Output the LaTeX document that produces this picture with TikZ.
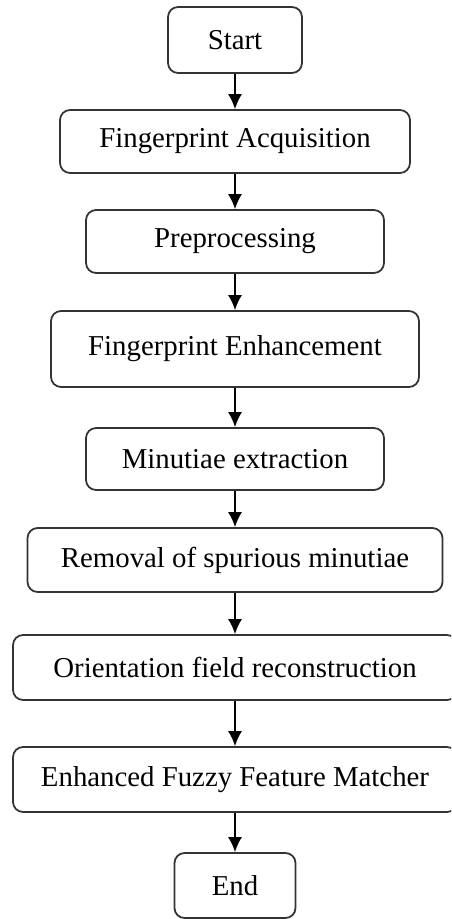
\documentclass[tikz,border=0pt]{standalone}
\usepackage{fontspec}
\setmainfont{Liberation Serif}
\usetikzlibrary{arrows.meta}

\begin{document}
\begin{tikzpicture}[x=0.02cm,y=-0.02cm,
        stage/.style={draw=black!80, line width=1pt, rounded corners=0.2cm, fill=white,
          inner sep=0pt, font=\fontsize{16.4}{19}\selectfont},
        flow/.style={draw=black, line width=0.9pt, -{Latex[length=3mm,width=2.8mm]}}]
        \clip (0,0) rectangle (451,919);
        \useasboundingbox (0,0) rectangle (451,919);
        \node[stage, minimum width=2.68cm, minimum height=1.32cm] (S) at (235,40) {Start};
        \node[stage, minimum width=7.0cm, minimum height=1.26cm] (FA) at (235,141.5) {Fingerprint Acquisition};
        \node[stage, minimum width=5.96cm, minimum height=1.26cm] (PP) at (235,241.5) {Preprocessing};
        \node[stage, minimum width=7.36cm, minimum height=1.52cm] (FE) at (235,349) {Fingerprint Enhancement};
        \node[stage, minimum width=5.96cm, minimum height=1.24cm] (ME) at (235,459) {Minutiae extraction};
        \node[stage, minimum width=8.3cm, minimum height=1.28cm] (RS) at (235,560) {Removal of spurious minutiae};
        \node[stage, minimum width=8.88cm, minimum height=1.3cm] (OF) at (235,667.5) {Orientation field reconstruction};
        \node[stage, minimum width=8.88cm, minimum height=1.3cm] (EF) at (235,779.5) {Enhanced Fuzzy Feature Matcher};
        \node[stage, minimum width=2.42cm, minimum height=1.3cm] (E) at (235,885.5) {End};
        \draw[flow] (S) -- (FA);
        \draw[flow] (FA) -- (PP);
        \draw[flow] (PP) -- (FE);
        \draw[flow] (FE) -- (ME);
        \draw[flow] (ME) -- (RS);
        \draw[flow] (RS) -- (OF);
        \draw[flow] (OF) -- (EF);
        \draw[flow] (EF) -- (E);
      \end{tikzpicture}
\end{document}
